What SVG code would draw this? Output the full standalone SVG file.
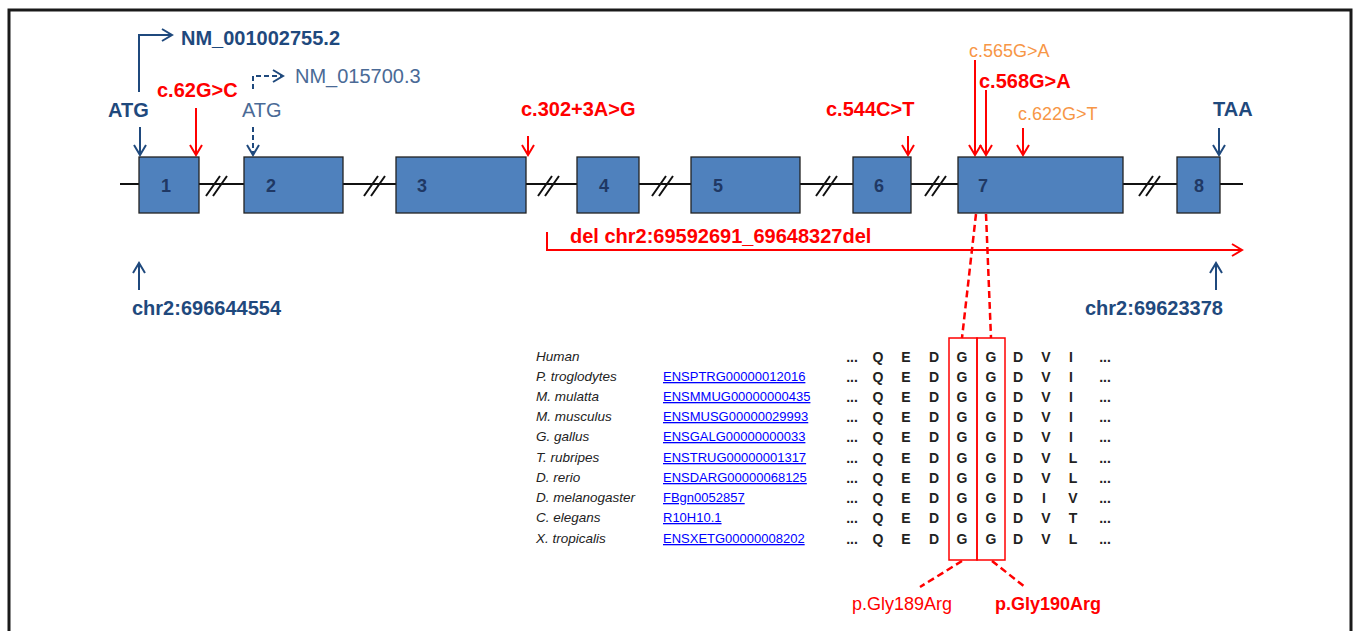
<svg xmlns="http://www.w3.org/2000/svg" width="1358" height="631" viewBox="0 0 1358 631">
<defs>
<style>
text{font-family:"Liberation Sans",Arial,sans-serif}
.exon{fill:#4F81BD;stroke:#222;stroke-width:1.3}
.enum{font-size:18px;font-weight:bold;fill:#1F3864;text-anchor:middle}
.blueB{fill:#1F497D;font-weight:bold;font-size:20px}
.blueN{fill:#4A6A96;font-size:20px}
.redB{fill:#FF0000;font-weight:bold;font-size:20px}
.orange{fill:#F79646;font-size:18px}
.sp{font-size:13.5px;font-style:italic;fill:#222}
.lnk{font-size:13px;fill:#0000FF;text-decoration:underline}
.aa{font-size:14px;font-weight:bold;fill:#222;text-anchor:middle}
.blk{stroke:#111;stroke-width:2;fill:none}
.arB{stroke:#1F497D;stroke-width:2;fill:none}
.arR{stroke:#FF0000;stroke-width:2;fill:none}
.dashR{stroke:#FF0000;stroke-width:2.5;fill:none;stroke-dasharray:7 4}
</style>
<marker id="hb" markerWidth="14" markerHeight="14" refX="11" refY="7" orient="auto" markerUnits="userSpaceOnUse"><path d="M1,1 L11,7 L1,13" fill="none" stroke="#1F497D" stroke-width="2"/></marker>
<marker id="hr" markerWidth="14" markerHeight="14" refX="11" refY="7" orient="auto" markerUnits="userSpaceOnUse"><path d="M1,1 L11,7 L1,13" fill="none" stroke="#FF0000" stroke-width="2"/></marker>
</defs>
<rect width="1358" height="631" fill="#fff"/>
<path d="M9,640 V10 H1351 V640" fill="none" stroke="#1a1a1a" stroke-width="3"/>

<g id="connectors">
<line class="blk" x1="120" y1="184" x2="1243" y2="184"/>
<g class="blk" stroke-width="1.6">
<path d="M206,196 L220,176 M213,196 L227,176"/>
<path d="M364,196 L378,176 M371,196 L385,176"/>
<path d="M538,196 L552,176 M545,196 L559,176"/>
<path d="M652,196 L666,176 M659,196 L673,176"/>
<path d="M816,196 L830,176 M823,196 L837,176"/>
<path d="M925,196 L939,176 M932,196 L946,176"/>
<path d="M1139,196 L1153,176 M1146,196 L1160,176"/>
</g>
<path class="arB" d="M139,92 V35 H172" marker-end="url(#hb)"/>
<line class="arB" x1="140" y1="127" x2="140" y2="155" marker-end="url(#hb)"/>
<line class="arR" x1="196" y1="108" x2="196" y2="155" marker-end="url(#hr)"/>
<path class="arB" d="M253,89 V76 H283" stroke-dasharray="5 3" marker-end="url(#hb)"/>
<line class="arB" x1="253" y1="127" x2="253" y2="155" stroke-dasharray="5 3" marker-end="url(#hb)"/>
<line class="arR" x1="528" y1="136" x2="528" y2="155" marker-end="url(#hr)"/>
<line class="arR" x1="908" y1="136" x2="908" y2="155" marker-end="url(#hr)"/>
<line class="arR" x1="975" y1="60" x2="975" y2="155" marker-end="url(#hr)"/>
<line class="arR" x1="986" y1="90" x2="986" y2="155" marker-end="url(#hr)"/>
<line class="arR" x1="1023" y1="128" x2="1023" y2="155" marker-end="url(#hr)"/>
<line class="arB" x1="1219" y1="128" x2="1219" y2="155" marker-end="url(#hb)"/>
<path class="arR" d="M547,232 V250 H1242" marker-end="url(#hr)"/>
<line class="arB" x1="139" y1="290" x2="139" y2="263" marker-end="url(#hb)"/>
<line class="arB" x1="1216" y1="290" x2="1216" y2="263" marker-end="url(#hb)"/>
<line class="dashR" x1="976" y1="214" x2="962" y2="338"/>
<line class="dashR" x1="986" y1="214" x2="991" y2="338"/>
<line class="dashR" x1="962" y1="561" x2="920" y2="587"/>
<line class="dashR" x1="992" y1="561" x2="1025" y2="587"/>
</g>

<g id="exon1"><rect class="exon" x="139" y="157" width="60" height="56"/><text class="enum" x="166" y="192">1</text></g>
<g id="exon2"><rect class="exon" x="244" y="157" width="99" height="56"/><text class="enum" x="271" y="192">2</text></g>
<g id="exon3"><rect class="exon" x="396" y="157" width="130" height="56"/><text class="enum" x="422" y="192">3</text></g>
<g id="exon4"><rect class="exon" x="577" y="157" width="62" height="56"/><text class="enum" x="604" y="192">4</text></g>
<g id="exon5"><rect class="exon" x="691" y="157" width="109" height="56"/><text class="enum" x="718" y="192">5</text></g>
<g id="exon6"><rect class="exon" x="853" y="157" width="58" height="56"/><text class="enum" x="879" y="192">6</text></g>
<g id="exon7"><rect class="exon" x="958" y="157" width="165" height="56"/><text class="enum" x="983" y="192">7</text></g>
<g id="exon8"><rect class="exon" x="1177" y="157" width="43" height="56"/><text class="enum" x="1199" y="192">8</text></g>

<g id="labels">
<text class="blueB" x="181" y="45">NM_001002755.2</text>
<text class="blueB" x="108" y="117">ATG</text>
<text class="redB" x="157" y="97">c.62G&gt;C</text>
<text class="blueN" x="295" y="83">NM_015700.3</text>
<text class="blueN" x="242" y="117">ATG</text>
<text class="redB" x="521" y="116">c.302+3A&gt;G</text>
<text class="redB" x="826" y="116">c.544C&gt;T</text>
<text class="orange" x="969" y="57">c.565G&gt;A</text>
<text class="redB" x="979" y="88">c.568G&gt;A</text>
<text class="orange" x="1018" y="120">c.622G&gt;T</text>
<text class="blueB" x="1213" y="116">TAA</text>
<text class="redB" x="570" y="243">del chr2:69592691_69648327del</text>
<text class="blueB" x="132" y="315">chr2:696644554</text>
<text class="blueB" x="1085" y="315">chr2:69623378</text>
<text fill="#FF0000" font-size="18" x="852" y="610">p.Gly189Arg</text>
<text fill="#FF0000" font-size="18" font-weight="bold" x="995" y="610">p.Gly190Arg</text>
</g>

<g id="alignment">
<rect x="949" y="338" width="28" height="222" fill="none" stroke="#FF0000" stroke-width="1.5"/>
<rect x="977" y="338" width="28" height="222" fill="none" stroke="#FF0000" stroke-width="1.5"/>
<g class="species">
<text class="sp" x="536" y="361">Human</text>
<text class="sp" x="536" y="381">P. troglodytes</text>
<text class="sp" x="536" y="401">M. mulatta</text>
<text class="sp" x="536" y="421">M. musculus</text>
<text class="sp" x="536" y="441">G. gallus</text>
<text class="sp" x="536" y="462">T. rubripes</text>
<text class="sp" x="536" y="482">D. rerio</text>
<text class="sp" x="536" y="502">D. melanogaster</text>
<text class="sp" x="536" y="522">C. elegans</text>
<text class="sp" x="536" y="543">X. tropicalis</text>
</g>
<g class="links">
<text class="lnk" x="663" y="381">ENSPTRG00000012016</text>
<text class="lnk" x="663" y="401">ENSMMUG00000000435</text>
<text class="lnk" x="663" y="421">ENSMUSG00000029993</text>
<text class="lnk" x="663" y="441">ENSGALG00000000033</text>
<text class="lnk" x="663" y="462">ENSTRUG00000001317</text>
<text class="lnk" x="663" y="482">ENSDARG00000068125</text>
<text class="lnk" x="663" y="502">FBgn0052857</text>
<text class="lnk" x="663" y="522">R10H10.1</text>
<text class="lnk" x="663" y="543">ENSXETG00000008202</text>
</g>
<g class="seq">
<text class="aa" y="362"><tspan x="852">...</tspan><tspan x="878">Q</tspan><tspan x="906">E</tspan><tspan x="934">D</tspan><tspan x="962">G</tspan><tspan x="991">G</tspan><tspan x="1018">D</tspan><tspan x="1046">V</tspan><tspan x="1071">I</tspan><tspan x="1105">...</tspan></text>
<text class="aa" y="382"><tspan x="852">...</tspan><tspan x="878">Q</tspan><tspan x="906">E</tspan><tspan x="934">D</tspan><tspan x="962">G</tspan><tspan x="991">G</tspan><tspan x="1018">D</tspan><tspan x="1046">V</tspan><tspan x="1071">I</tspan><tspan x="1105">...</tspan></text>
<text class="aa" y="402"><tspan x="852">...</tspan><tspan x="878">Q</tspan><tspan x="906">E</tspan><tspan x="934">D</tspan><tspan x="962">G</tspan><tspan x="991">G</tspan><tspan x="1018">D</tspan><tspan x="1046">V</tspan><tspan x="1071">I</tspan><tspan x="1105">...</tspan></text>
<text class="aa" y="422"><tspan x="852">...</tspan><tspan x="878">Q</tspan><tspan x="906">E</tspan><tspan x="934">D</tspan><tspan x="962">G</tspan><tspan x="991">G</tspan><tspan x="1018">D</tspan><tspan x="1046">V</tspan><tspan x="1071">I</tspan><tspan x="1105">...</tspan></text>
<text class="aa" y="442"><tspan x="852">...</tspan><tspan x="878">Q</tspan><tspan x="906">E</tspan><tspan x="934">D</tspan><tspan x="962">G</tspan><tspan x="991">G</tspan><tspan x="1018">D</tspan><tspan x="1046">V</tspan><tspan x="1071">I</tspan><tspan x="1105">...</tspan></text>
<text class="aa" y="463"><tspan x="852">...</tspan><tspan x="878">Q</tspan><tspan x="906">E</tspan><tspan x="934">D</tspan><tspan x="962">G</tspan><tspan x="991">G</tspan><tspan x="1018">D</tspan><tspan x="1046">V</tspan><tspan x="1073">L</tspan><tspan x="1105">...</tspan></text>
<text class="aa" y="483"><tspan x="852">...</tspan><tspan x="878">Q</tspan><tspan x="906">E</tspan><tspan x="934">D</tspan><tspan x="962">G</tspan><tspan x="991">G</tspan><tspan x="1018">D</tspan><tspan x="1046">V</tspan><tspan x="1073">L</tspan><tspan x="1105">...</tspan></text>
<text class="aa" y="503"><tspan x="852">...</tspan><tspan x="878">Q</tspan><tspan x="906">E</tspan><tspan x="934">D</tspan><tspan x="962">G</tspan><tspan x="991">G</tspan><tspan x="1018">D</tspan><tspan x="1044">I</tspan><tspan x="1073">V</tspan><tspan x="1105">...</tspan></text>
<text class="aa" y="523"><tspan x="852">...</tspan><tspan x="878">Q</tspan><tspan x="906">E</tspan><tspan x="934">D</tspan><tspan x="962">G</tspan><tspan x="991">G</tspan><tspan x="1018">D</tspan><tspan x="1046">V</tspan><tspan x="1073">T</tspan><tspan x="1105">...</tspan></text>
<text class="aa" y="544"><tspan x="852">...</tspan><tspan x="878">Q</tspan><tspan x="906">E</tspan><tspan x="934">D</tspan><tspan x="962">G</tspan><tspan x="991">G</tspan><tspan x="1018">D</tspan><tspan x="1046">V</tspan><tspan x="1073">L</tspan><tspan x="1105">...</tspan></text>
</g>
</g>
</svg>
